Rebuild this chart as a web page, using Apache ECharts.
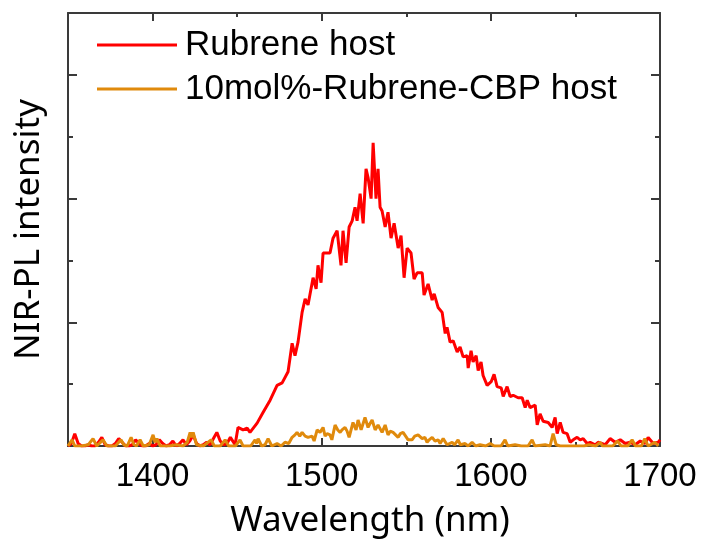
<!DOCTYPE html>
<html>
<head>
<meta charset="utf-8">
<script src="https://cdn.jsdelivr.net/npm/echarts@6/dist/echarts.min.js"></script>
<style>html,body{margin:0;padding:0;background:#fff;}#c{width:701px;height:540px;}</style>
</head>
<body>
<div id="c"></div>
<script>
const seriesNames = ['Rubrene host', '10mol%-Rubrene-CBP host'];
const xMajorTicks = [1400, 1500, 1600, 1700];
const xMinorTicks = [1350, 1450, 1550, 1650];
const yMajorTicks = [100, 200, 300];
const yMinorTicks = [50, 150, 250];

const redX = [1350,1352,1354,1356,1358,1360,1362,1364,1366,1368,1370,1372,1374,1376,1378,1380,1382,1384,1386,1388,1390,1392,1394,1396,1398,1400,1402,1404,1406,1408,1410,1412,1414,1416,1418,1420,1422,1424,1426,1428,1430,1432,1434,1436,1438,1440,1442,1444,1446,1448.8,
1450.5,1453.5,1455.9,1457.6,1461.8,1465.3,1469.5,1473.6,1476.6,1480.1,1482.5,1484.2,1486.0,1488.4,1490.2,1491.9,1494.9,1496.7,1497.8,1499.6,1500.8,1504.9,1506.7,1509.1,1511.4,1512.6,1514.4,1516.2,1518.0,1519.7,1520.9,1522.7,1524.5,1526.2,1527.4,1529.2,1530.4,1532.1,1533.3,1534.5,1535.7,1537.5,1539.2,1541.0,1542.8,1545.2,1546.9,1548.7,1550.5,1552.8,1554.6,1556.4,1559.4,1560.5,1562.9,1565.3,1566.5,1568.8,1571.2,1573.0,1574.1,1575.9,1577.7,1580.1,1581.8,1583.6,1586.0,1586.6,1588.3,1589.5,1591.3,1592.5,1594.2,1595.4,1597.8,1600.2,1601.9,1603.7,1606.1,1607.3,1609.6,1611.4,1613.2,1616.1,1618.5,1620.3,1621.5,1623.2,1626.2,1627.4,1629.1,1630.9,1633.9,1636.2,1638.0,1639.2,1641.0,1642.7,1645.1,1646.9,1648.7,1651.0,1652.8,1654.6,1656.9,1658.7,1661.7,1663.4,1667.6,1670.5,1673.5,1676.5,1679.4,1682.4,1685.3,1688.3,1691.2,1693.0,1696.0,1698.9,1700];
const redY = [0,2,10,2,0,0,1,0,0,3,7,1,0,0,2,6,3,0,0,1,5,2,0,0,2,0,1,5,2,0,1,4,0,2,5,1,4,9,2,0,1,3,1,6,11,4,1,2,7,1,
15,13,14.5,11,18.5,27,37,49,51,60,83,73,84,108,119,114,136,127,146,132,156,156,168,174,146,174,148,177,182,193,182,204,180,224,217,200,245,200,224,193,190,177,189,168,180,160,170,136,160,156,135,140,140,122,131,118,123,112,108,91,96,84,85,76,80,72,73,63,77,68,73,61,68,57,49,52,58,48,47,40,48,40,41,39,39,31,37,31,33,17,26,20,19,15,23,10,19,11,10,3,5,7,5,6,2,3,1,3,1,6,3,5,2,3,1,4,2,7,2,3,5];

const orangeX = [1350,1352.4,1354,1358,1362,1364.8,1367,1370.7,1373,1378,1381.3,1383,1385,1387.3,1389,1390.5,1392.6,1394.5,1398,1400.3,1401.5,1402.6,1404.5,1410,1414,1418,1420.5,1422.2,1423,1424,1426,1430,1434.6,1436.5,1440,1442.9,1445,1449,1451.7,1453.5,1458,1460.6,1461.5,1462.4,1464.5,1466.5,1468.3,1470.5,1473.6,1476,1478.3,1480.5,1482.5,1484.2,1485.4,1487,1488.4,1490.2,1491.9,1494.3,1495.5,1497.3,1499.0,1500.8,1502,1503.2,1504.9,1506,1507.9,1509.5,1510.9,1512,1513.8,1515,1516.2,1518.5,1520.3,1521.5,1523.3,1525.6,1527.4,1528.5,1529.8,1531.6,1533.3,1535.7,1537.5,1539.2,1540.5,1542.2,1545.2,1546.5,1548.1,1551.1,1553.4,1555,1557.0,1559.4,1561,1562.3,1563.5,1565.3,1567,1568.8,1570,1571.8,1574.1,1577.1,1578.5,1580.6,1582,1584.8,1586.5,1588.9,1591,1593.6,1597,1599.6,1602,1606,1608.4,1610,1614.3,1618,1622,1624.4,1626,1632.1,1635,1636.8,1638.6,1641,1650,1655,1658,1662,1664.6,1666,1672,1675,1677,1681,1683.5,1685.5,1689,1691,1693,1697,1699];
const orangeY = [0,5,0,0,1,6,0,5,0,0,5,1,0,7,1,0,5,0,1,9,3,6,0,0,1,0,3,11,7,11,1,0,5,0,0,5,0,0,5,0,0,5,2,6,0,1,6,0,2,0,3,2,7,9,11,8,11,8,7,8,4,13,11,15,8,10,9,5,17,13,11,13,15,12,7,19,13,21,13,23,15,18,21,13,17,11,17,9,12,11,7,10,11,5,5,8,9,6,7,3,5,7,4,5,2,6,1,3,1,5,1,2,0,3,0,1,0,2,0,0,5,0,1,0,0,5,0,1,0,10,1,0,0,0,1,0,3,0,0,4,0,0,5,0,0,6,0,3,0];

const toPairs = (xs, ys) => xs.map((x, i) => [x, ys[i]]);
const frameColor = '#3a3a3a';

function xAx(position, ticks, len, showLine, showLabel) {
  return {
    type: 'value', min: 1350, max: 1700, position: position,
    axisLine: { show: showLine, onZero: false, lineStyle: { color: frameColor, width: 2 } },
    axisTick: { show: true, inside: true, length: len, customValues: ticks, lineStyle: { color: frameColor, width: 2 } },
    axisLabel: { show: showLabel, customValues: ticks, formatter: v => String(v), fontSize: 33, color: '#000', fontFamily: 'Liberation Sans, Arial, sans-serif', margin: 14 },
    splitLine: { show: false }
  };
}
function yAx(position, ticks, len, showLine) {
  return {
    type: 'value', min: 0, max: 350, position: position,
    axisLine: { show: showLine, onZero: false, lineStyle: { color: frameColor, width: 2 } },
    axisTick: { show: true, inside: true, length: len, customValues: ticks, lineStyle: { color: frameColor, width: 2 } },
    axisLabel: { show: false },
    splitLine: { show: false }
  };
}

const xAxes = [
  xAx('bottom', xMajorTicks, 8, true, true),
  xAx('bottom', xMinorTicks, 4, false, false),
  xAx('top', xMajorTicks, 8, true, false),
  xAx('top', xMinorTicks, 4, false, false)
];
xAxes[0].name = 'Wavelength (nm)';
xAxes[0].nameLocation = 'middle';
xAxes[0].nameGap = 58;
xAxes[0].nameTextStyle = { fontSize: 35, color: '#000', fontFamily: 'Noto Sans, sans-serif', padding: [0, 0, 0, 12] };

const yAxes = [
  yAx('left', yMajorTicks, 9, true),
  yAx('left', yMinorTicks, 5, false),
  yAx('right', yMajorTicks, 9, true),
  yAx('right', yMinorTicks, 5, false)
];
yAxes[0].name = 'NIR-PL intensity';
yAxes[0].nameLocation = 'middle';
yAxes[0].nameGap = 21;
yAxes[0].nameTextStyle = { fontSize: 35, color: '#000', fontFamily: 'Noto Sans, sans-serif' };

const chart = echarts.init(document.getElementById('c'), null, { renderer: 'canvas' });
chart.setOption({
  animation: false,
  backgroundColor: '#fff',
  grid: { left: 68, right: 41, top: 13, bottom: 94, containLabel: false, outerBoundsMode: 'none' },
  legend: {
    orient: 'vertical', left: 97, top: 27, padding: 0,
    itemWidth: 80, itemHeight: 3, itemGap: 8,
    textStyle: { fontSize: 35, color: '#000', fontFamily: 'Liberation Sans, Arial, sans-serif', padding: [0, 0, 0, 3], lineHeight: 36 },
    data: [
      { name: seriesNames[0], icon: 'rect' },
      { name: seriesNames[1], icon: 'rect' }
    ]
  },
  xAxis: xAxes,
  yAxis: yAxes,
  series: [
    { name: seriesNames[0], type: 'line', data: toPairs(redX, redY), showSymbol: false, color: '#ff0000', lineStyle: { color: '#ff0000', width: 3 }, xAxisIndex: 0, yAxisIndex: 0 },
    { name: seriesNames[1], type: 'line', data: toPairs(orangeX, orangeY), showSymbol: false, color: '#e08a0c', lineStyle: { color: '#e08a0c', width: 3 }, xAxisIndex: 0, yAxisIndex: 0 }
  ]
});
</script>
</body>
</html>
